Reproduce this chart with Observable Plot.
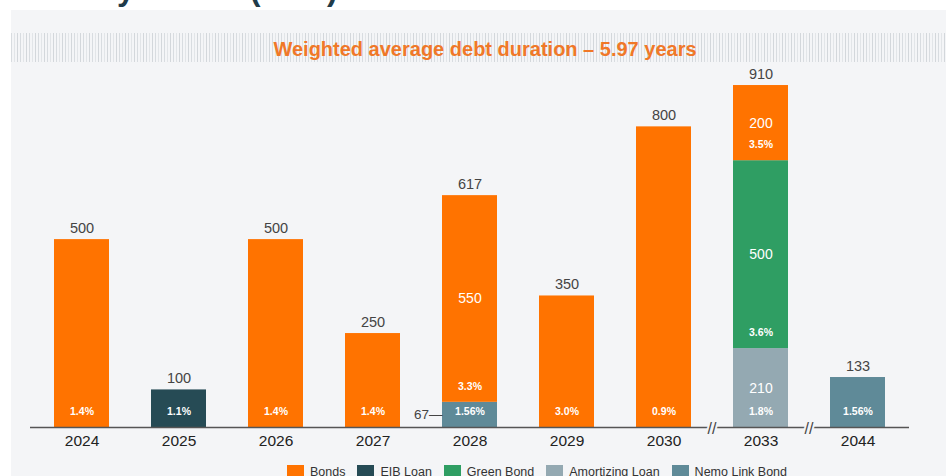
<!DOCTYPE html>
<html>
<head>
<meta charset="utf-8">
<script src="https://cdn.jsdelivr.net/npm/d3@7"></script>
<script src="https://cdn.jsdelivr.net/npm/@observablehq/plot@0.6"></script>
<style>
  body { margin: 0; background: #fff; }
  #page { position: relative; width: 946px; height: 476px; overflow: hidden; background: #fff; font-family: "Liberation Sans", Arial, sans-serif; }
  #toptitle { position: absolute; left: 12px; top: -30px; font-size: 31.5px; line-height: 38px; font-weight: bold; color: #1f3b49; white-space: nowrap; }
  #panel { position: absolute; left: 11px; top: 10px; right: 0; bottom: 0; background: #f4f5f7; }
  #band { position: absolute; left: 11px; right: 0; top: 33px; height: 29px;
    background: repeating-linear-gradient(90deg, #d8dce0 0 1px, #f4f5f7 1px 3px, #e2e5e8 3px 4px, #f4f5f7 4px 6px, #d3d7db 6px 7px, #f4f5f7 7px 9px); }
  #subtitle { position: absolute; left: 12px; width: 946px; top: 37px; text-align: center; font-size: 20px; font-weight: bold; color: #f07828; line-height: 24px; }
  #chart { position: absolute; left: 0; top: 64px; }
  #legend { position: absolute; left: 0; width: 946px; top: 465px; display: flex; justify-content: center; padding-left: 140px; box-sizing: border-box; font-size: 12.5px; color: #333; }
  .item { display: flex; align-items: center; margin-right: 12px; }
  .sw { width: 17px; height: 14px; margin-right: 6px; }
</style>
</head>
<body>
<div id="page">
  <div id="toptitle">Maturity Profile (EUR)</div>
  <div id="panel"></div>
  <div id="band"></div>
  <div id="subtitle">Weighted average debt duration – 5.97 years</div>
  <div id="chart"></div>
  <div id="legend"></div>
</div>
<script>
// ---- data ----
const years = ["2024", "2025", "2026", "2027", "2028", "2029", "2030", "2033", "2044"];
const types = ["Bonds", "EIB Loan", "Green Bond", "Amortizing Loan", "Nemo Link Bond"];
const colors = ["#ff7300", "#264b55", "#2f9e63", "#94a9b2", "#5f8a98"];
const segYear  = ["2024", "2025", "2026", "2027", "2028", "2028", "2029", "2030", "2033", "2033", "2033", "2044"];
const segType  = ["Bonds", "EIB Loan", "Bonds", "Bonds", "Nemo Link Bond", "Bonds", "Bonds", "Bonds", "Amortizing Loan", "Green Bond", "Bonds", "Nemo Link Bond"];
const segValue = [500, 100, 500, 250, 67, 550, 350, 800, 210, 500, 200, 133];
const segRate  = ["1.4%", "1.1%", "1.4%", "1.4%", "1.56%", "3.3%", "3.0%", "0.9%", "1.8%", "3.6%", "3.5%", "1.56%"];
const breakBefore = ["2033", "2044"];

// ---- derived tables ----
const segs = [];
const cum = {}, count = {};
segYear.forEach((y) => { count[y] = (count[y] || 0) + 1; });
segYear.forEach((y, i) => {
  const y1 = cum[y] || 0, y2 = y1 + segValue[i];
  cum[y] = y2;
  segs.push({year: y, type: segType[i], value: segValue[i], rate: segRate[i], y1, y2, stacked: count[y] > 1});
});
const totals = years.map(y => ({year: y, total: cum[y]}));
const inside = segs.filter(d => d.stacked && d.value > 100);
const outside = segs.filter(d => d.stacked && d.value <= 100);

const font = "'Liberation Sans', Arial, sans-serif";

const chart = Plot.plot({
  width: 946,
  height: 398,
  marginLeft: 9.5,
  marginRight: 16,
  marginTop: 6,
  marginBottom: 35,
  style: {background: "transparent", fontFamily: font, color: "#222"},
  x: {domain: years, padding: 0.436, label: null, axis: null},
  y: {domain: [0, 950], axis: null},
  color: {domain: types, range: colors},
  marks: [
    Plot.barY(segs, {x: "year", y1: "y1", y2: "y2", fill: "type"}),
    Plot.ruleY([0], {stroke: "#555", strokeWidth: 1.4, insetLeft: 20.5, insetRight: 21}),
    Plot.text(breakBefore, {x: d => d, y: 0, text: () => "//", dx: -49, dy: 1, fontSize: 16, fill: "#444", stroke: "#f4f5f7", strokeWidth: 4}),
    Plot.axisX({tickSize: 0, tickPadding: 7, fontSize: 15.5, label: null}),
    Plot.text(totals, {x: "year", y: "total", text: d => String(d.total), dy: -11.5, fontSize: 14.5, fill: "#444"}),
    Plot.text(segs, {x: "year", y: "y1", text: "rate", dy: -16, fontSize: 10.5, fontWeight: "bold", fill: "#fff"}),
    Plot.text(inside, {x: d => d.year, y: d => (d.y1 + d.y2) / 2, text: d => String(d.value), fontSize: 14, fill: "#fff"}),
    Plot.text(outside, {x: "year", y: d => (d.y1 + d.y2) / 2, text: d => d.value + "—", dx: -27.5, textAnchor: "end", fontSize: 13.5, fill: "#444"})
  ]
});
document.getElementById("chart").appendChild(chart);

// legend
const legend = document.getElementById("legend");
types.forEach((t, i) => {
  const it = document.createElement("div");
  it.className = "item";
  const sw = document.createElement("div");
  sw.className = "sw";
  sw.style.background = colors[i];
  const lb = document.createElement("span");
  lb.textContent = t;
  it.appendChild(sw); it.appendChild(lb);
  legend.appendChild(it);
});
</script>
</body>
</html>
